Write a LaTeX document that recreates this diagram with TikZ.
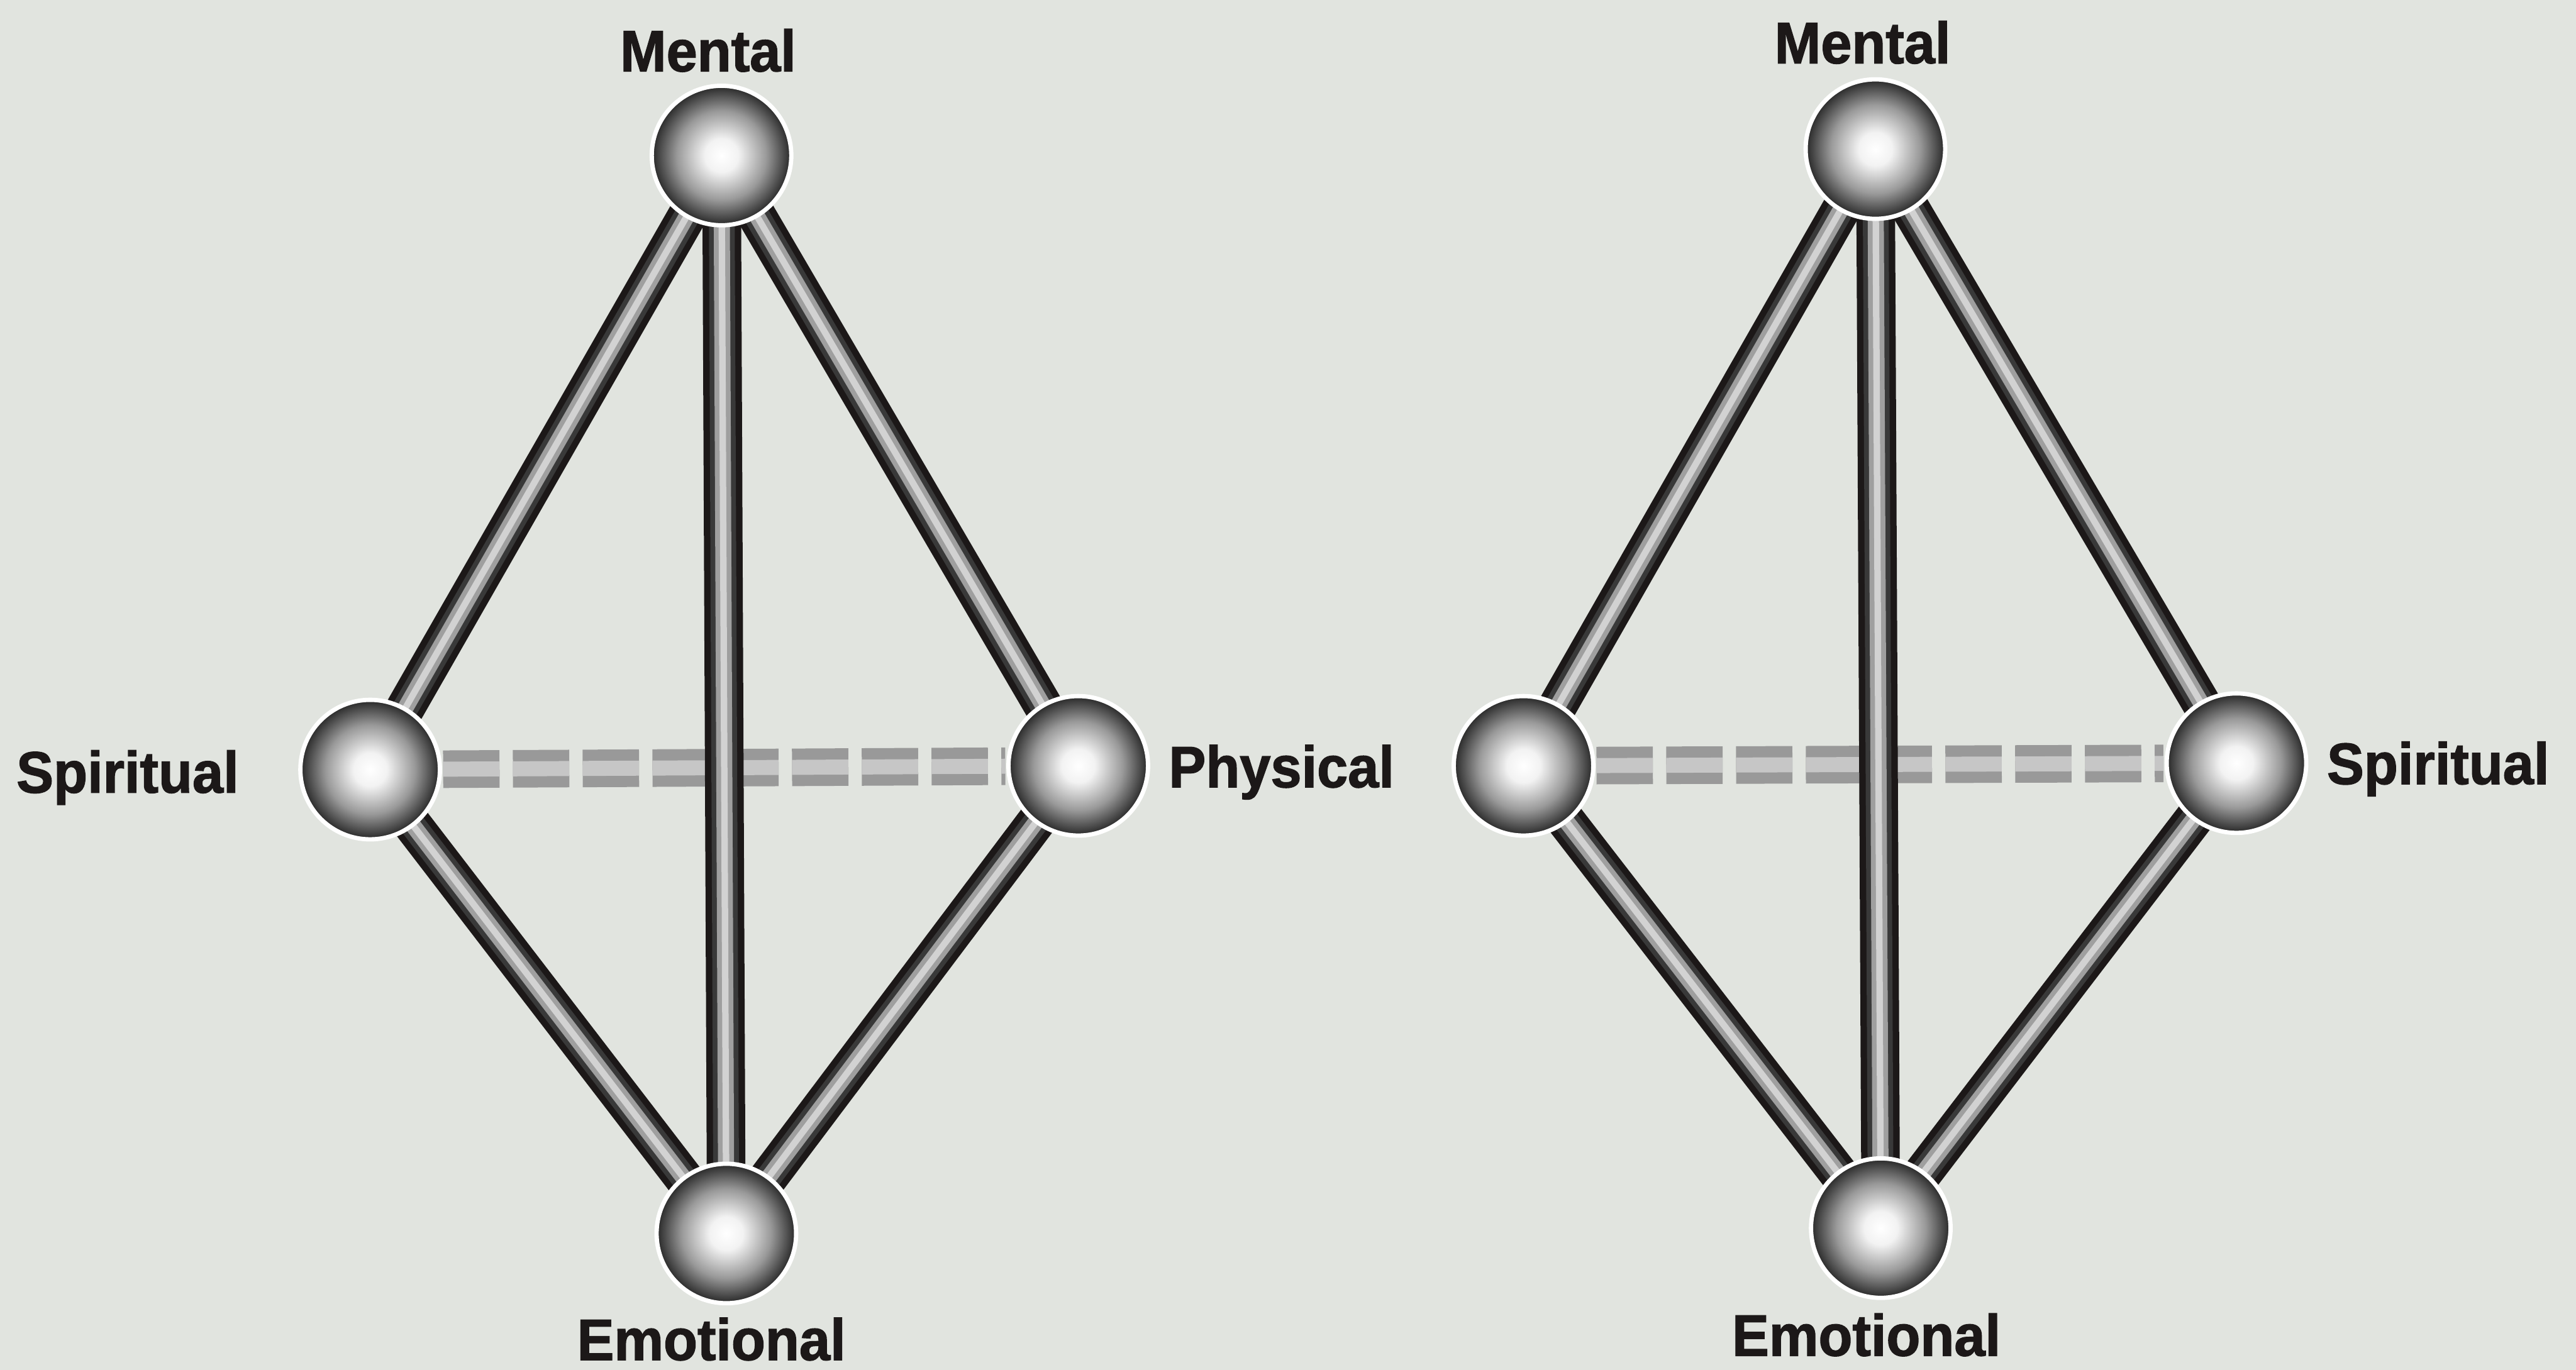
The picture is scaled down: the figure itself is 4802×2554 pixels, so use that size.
\documentclass[tikz,border=0pt]{standalone}
\usepackage{fontspec}
\setmainfont{Liberation Sans}
\newfontfamily\lblfont{Liberation Sans}[FakeStretch=0.95, FakeBold=1.5]
\definecolor{paper}{RGB}{225,228,223}
\definecolor{ink}{RGB}{28,24,24}
\pgfdeclareradialshading{orb}{\pgfpoint{0bp}{0bp}}{color(0bp)=(white); color(6bp)=(white!95!black); color(16bp)=(gray!80); color(25bp)=(black!85); color(31bp)=(black); color(50bp)=(black)}

\begin{document}
\begin{tikzpicture}[
		x=0.01cm, y=-0.01cm,
		sphere/.style={circle, draw=white, line width=0.08cm, shading=orb, minimum size=2.6cm, inner sep=0pt},
		rod/.style={draw=ink, line width=0.72cm,
			postaction={draw=gray!45!black, line width=0.48cm},
			postaction={draw=gray!75, line width=0.3cm},
			postaction={draw=gray!35, line width=0.12cm}},
		dashrod/.style={draw=gray!80, line width=0.7cm, dash pattern=on 1.05cm off 0.25cm,
			shorten >=1.36cm, shorten <=1.36cm,
			postaction={draw=gray!45, line width=0.28cm, dash pattern=on 1.05cm off 0.25cm,
				shorten >=1.36cm, shorten <=1.36cm}},
		lbl/.style={font=\lblfont\bfseries\fontsize{31pt}{31pt}\selectfont, text=ink, inner sep=0pt}
		]
		
		\useasboundingbox (0,0) rectangle (4802,2554);
		\fill[paper] (0,0) rectangle (4802,2554);
		
		% --------------------------------------------------
		% sphere centres
		% --------------------------------------------------
		\coordinate (m1) at (1345,290);
		\coordinate (s1) at (690,1435);
		\coordinate (p1) at (2010,1428);
		\coordinate (e1) at (1354,2300);
		
		\coordinate (m2) at (3496,278);
		\coordinate (n2) at (2840,1428);
		\coordinate (s2) at (4169,1423);
		\coordinate (e2) at (3506,2290);
		
		% dashed rods (behind the solid ones)
		\draw[dashrod] (s1) -- (p1);
		\draw[dashrod] (n2) -- (s2);
		
		% solid rods
		\foreach \a/\b in {m1/s1, m1/p1, m1/e1, s1/e1, p1/e1, m2/n2, m2/s2, m2/e2, n2/e2, s2/e2}
		\draw[rod] (\a) -- (\b);
		
		% --------------------------------------------------
		% spheres
		% --------------------------------------------------
		\node[sphere] (M1) at (m1) {};
		\node[sphere] (S1) at (s1) {};
		\node[sphere] (P1) at (p1) {};
		\node[sphere] (E1) at (e1) {};
		
		\node[sphere] (M2) at (m2) {};
		\node[sphere] (N2) at (n2) {};
		\node[sphere] (S2) at (s2) {};
		\node[sphere] (E2) at (e2) {};
		
		% --------------------------------------------------
		% labels
		% --------------------------------------------------
		\node[lbl, anchor=base] (tM1) at (1320,133) {Mental};
		\node[lbl, anchor=base west] (tS1) at (30,1478) {Spiritual};
		\node[lbl, anchor=base west] (tP1) at (2178,1468) {Physical};
		\node[lbl, anchor=base] (tE1) at (1326,2536) {Emotional};
		
		\node[lbl, anchor=base] (tM2) at (3472,118) {Mental};
		\node[lbl, anchor=base west] (tS2) at (4337,1462) {Spiritual};
		\node[lbl, anchor=base] (tE2) at (3479,2528) {Emotional};
		
	\end{tikzpicture}
\end{document}
